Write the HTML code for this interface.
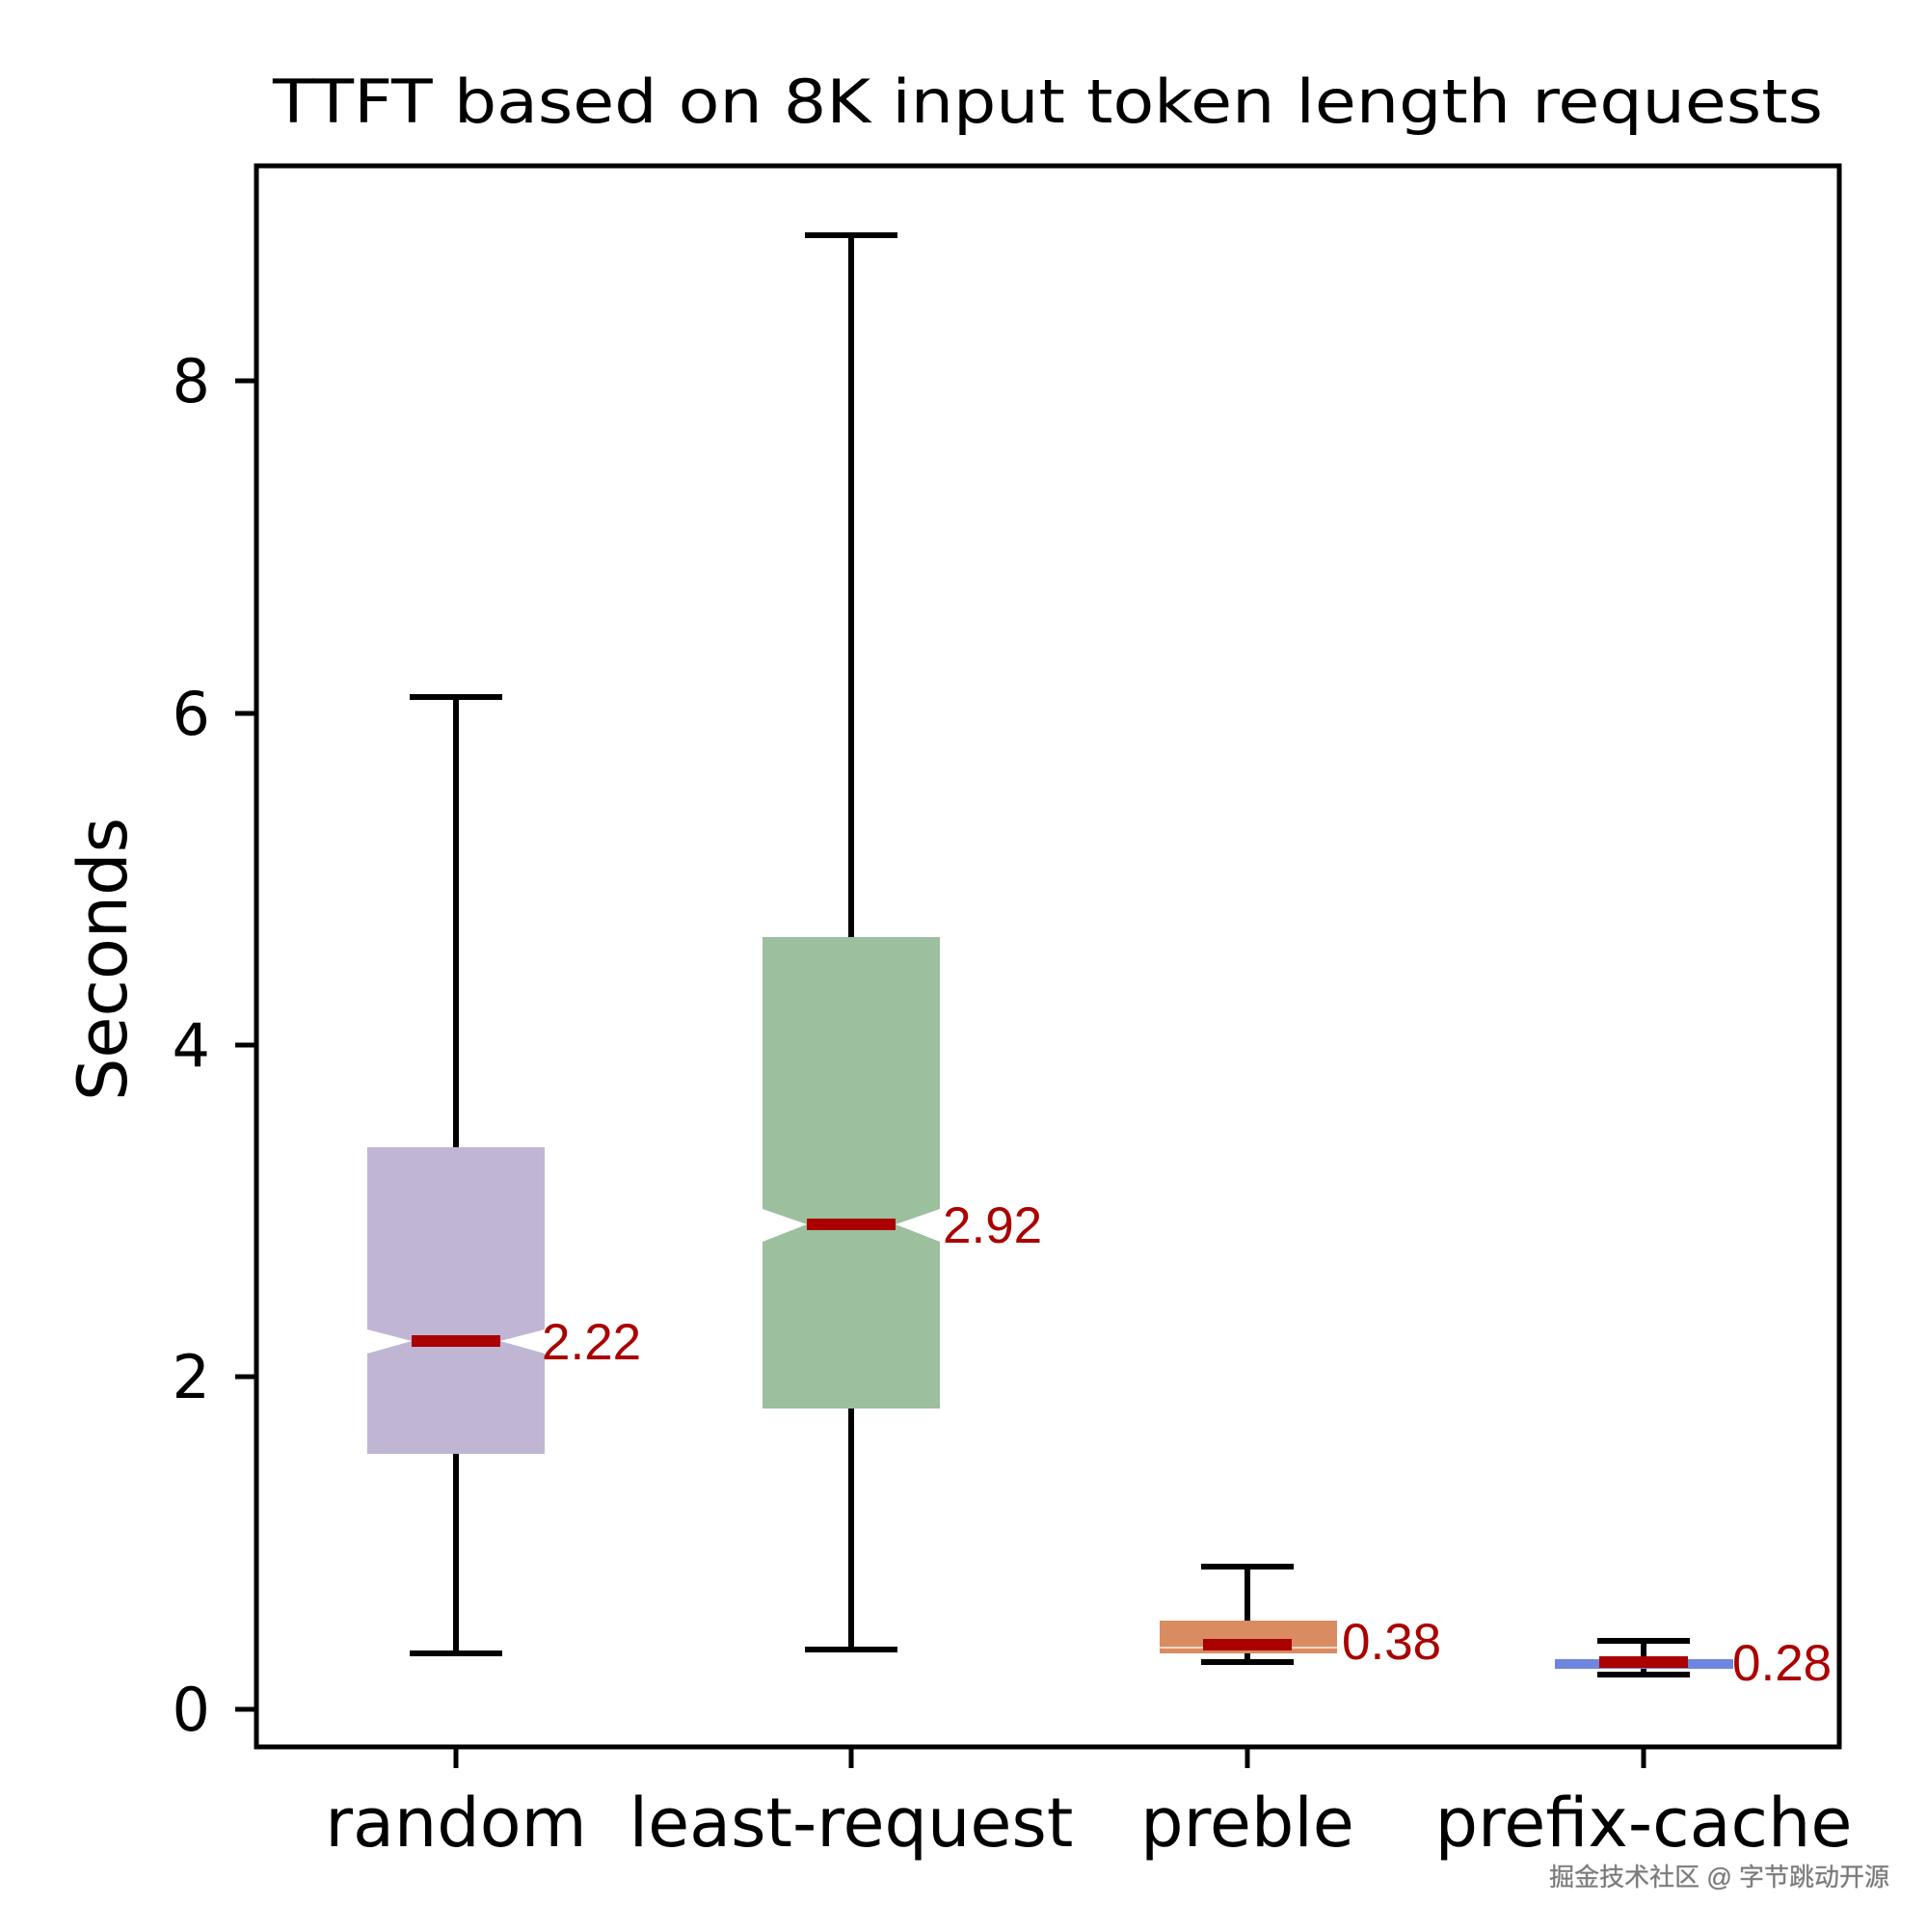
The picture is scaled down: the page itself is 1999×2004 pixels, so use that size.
<!DOCTYPE html>
<html><head><meta charset="utf-8"><style>html,body{margin:0;padding:0;background:#fff}</style></head>
<body>
<svg width="1999" height="1999" viewBox="0 0 1999 1999" xmlns="http://www.w3.org/2000/svg">
<rect width="1999" height="1999" fill="#fff"/>
<g font-family="DejaVu Sans, sans-serif" fill="#000">
<text x="1087" y="127" font-size="62" text-anchor="middle" textLength="1608" lengthAdjust="spacingAndGlyphs">TTFT based on 8K input token length requests</text>
</g>
<g transform="translate(0,-2)">
<!-- random -->
<line x1="473" y1="725" x2="473" y2="1717" stroke="#000" stroke-width="6"/>
<line x1="425" y1="725" x2="521" y2="725" stroke="#000" stroke-width="6"/>
<line x1="425" y1="1717" x2="521" y2="1717" stroke="#000" stroke-width="6"/>
<polygon points="381,1192 565,1192 565,1381 519,1393 565,1406 565,1510 381,1510 381,1406 427,1393 381,1381" fill="#c0b6d4"/>
<line x1="427" y1="1393" x2="519" y2="1393" stroke="#aa0000" stroke-width="12"/>
<!-- least-request -->
<line x1="883" y1="246" x2="883" y2="1713" stroke="#000" stroke-width="6"/>
<line x1="835" y1="246" x2="931" y2="246" stroke="#000" stroke-width="6"/>
<line x1="835" y1="1713" x2="931" y2="1713" stroke="#000" stroke-width="6"/>
<polygon points="791,974 975,974 975,1256 929,1272 975,1290 975,1463 791,1463 791,1290 837,1272 791,1256" fill="#9cbf9e"/>
<line x1="837" y1="1272" x2="929" y2="1272" stroke="#aa0000" stroke-width="12"/>
<!-- preble -->
<line x1="1294" y1="1627" x2="1294" y2="1726" stroke="#000" stroke-width="6"/>
<line x1="1246" y1="1627" x2="1342" y2="1627" stroke="#000" stroke-width="6"/>
<rect x="1203" y="1683" width="184" height="34" fill="#d98c62"/>
<line x1="1203" y1="1711" x2="1387" y2="1711" stroke="#f5d8c8" stroke-width="2"/>
<line x1="1246" y1="1726" x2="1342" y2="1726" stroke="#000" stroke-width="6"/>
<line x1="1248" y1="1708" x2="1340" y2="1708" stroke="#aa0000" stroke-width="12"/>
<!-- prefix-cache -->
<line x1="1705" y1="1704" x2="1705" y2="1739" stroke="#000" stroke-width="6"/>
<line x1="1657" y1="1704" x2="1753" y2="1704" stroke="#000" stroke-width="6"/>
<line x1="1657" y1="1739" x2="1753" y2="1739" stroke="#000" stroke-width="6"/>
<rect x="1613" y="1723" width="185" height="10" fill="#6f86df"/>
<line x1="1659" y1="1726" x2="1751" y2="1726" stroke="#aa0000" stroke-width="12"/>
<g font-family="Liberation Sans, Arial, sans-serif" font-size="53" fill="#aa0000">
<text x="562" y="1412">2.22</text>
<text x="978" y="1291">2.92</text>
<text x="1392" y="1723">0.38</text>
<text x="1797" y="1745">0.28</text>
</g>
<rect x="266" y="174" width="1642" height="1640" fill="none" stroke="#000" stroke-width="5"/>
<g stroke="#000" stroke-width="5">
<line x1="244" y1="1775" x2="266" y2="1775"/>
<line x1="244" y1="1430" x2="266" y2="1430"/>
<line x1="244" y1="1086" x2="266" y2="1086"/>
<line x1="244" y1="742" x2="266" y2="742"/>
<line x1="244" y1="397" x2="266" y2="397"/>
<line x1="473" y1="1814" x2="473" y2="1836"/>
<line x1="883" y1="1814" x2="883" y2="1836"/>
<line x1="1294" y1="1814" x2="1294" y2="1836"/>
<line x1="1705" y1="1814" x2="1705" y2="1836"/>
</g>
<g font-family="DejaVu Sans, sans-serif" font-size="62" fill="#000" text-anchor="end">
<text x="218" y="1797">0</text>
<text x="218" y="1452">2</text>
<text x="218" y="1108">4</text>
<text x="218" y="764">6</text>
<text x="218" y="419">8</text>
</g>
<text transform="translate(131,997) rotate(-90)" font-family="DejaVu Sans, sans-serif" font-size="70" text-anchor="middle">Seconds</text>
<g font-family="DejaVu Sans, sans-serif" font-size="70" fill="#000" text-anchor="middle">
<text x="473" y="1917">random</text>
<text x="883" y="1917">least-request</text>
<text x="1294" y="1917">preble</text>
<text x="1705" y="1917">prefix-cache</text>
</g>
</g>
<text x="1960" y="1956" font-family="Liberation Sans, 'Noto Sans CJK SC', sans-serif" font-size="26" fill="#777" stroke="#999" stroke-width="0.5" text-anchor="end">掘金技术社区 @ 字节跳动开源</text>
</svg>
</body></html>
